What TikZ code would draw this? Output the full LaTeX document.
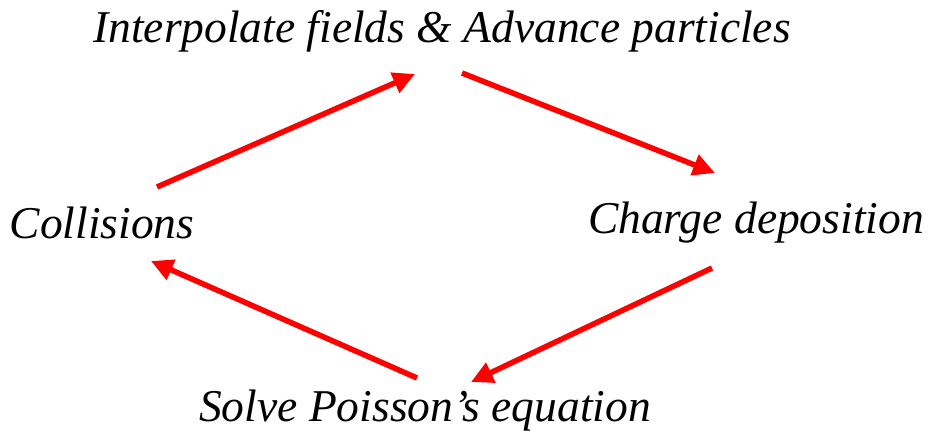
\documentclass[tikz,border=0pt]{standalone}
\usepackage{fontspec}
\setmainfont{Liberation Serif}
\usetikzlibrary{arrows.meta}
\begin{document}
\begin{tikzpicture}[x=1pt,y=-1pt,
  lbl/.style={font=\itshape\fontsize{45.5}{50}\selectfont, inner sep=0pt},
  flow/.style={draw=red, line width=5.5pt, -{Triangle[length=22pt,width=21pt]}}]
\useasboundingbox (0,0) rectangle (928,440);
\node[lbl] (top) at (442,31) {Interpolate fields \& Advance particles};
\node[lbl] (left) at (102,223) {Collisions};
\node[lbl] (right) at (756,223) {Charge deposition};
\node[lbl] (bot) at (425,411) {Solve Poisson’s equation};
\coordinate (a1) at (157,187); \coordinate (a2) at (415,74);
\coordinate (b1) at (462,73); \coordinate (b2) at (715,173);
\coordinate (c1) at (712,268); \coordinate (c2) at (471,382);
\coordinate (d1) at (417,378); \coordinate (d2) at (151,261);
\draw[flow] (a1) -- (a2);
\draw[flow] (b1) -- (b2);
\draw[flow] (c1) -- (c2);
\draw[flow] (d1) -- (d2);
\end{tikzpicture}
\end{document}
